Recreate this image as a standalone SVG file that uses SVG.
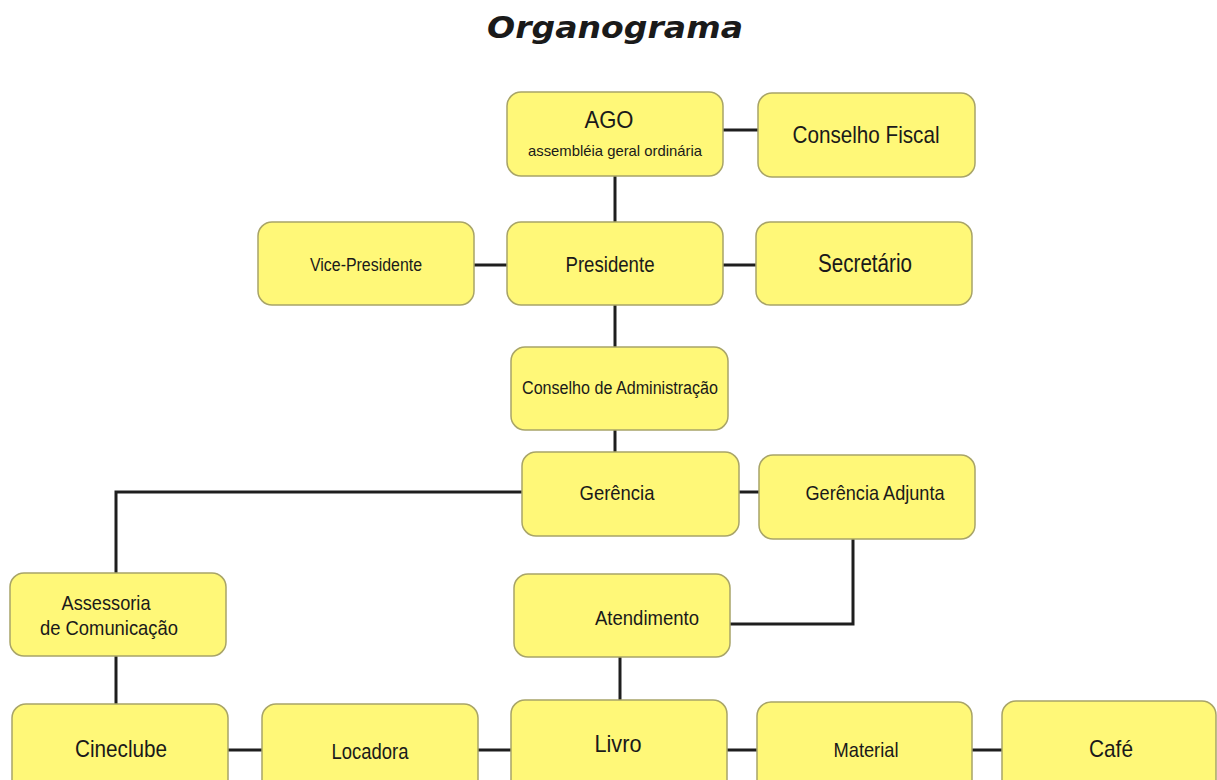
<svg xmlns="http://www.w3.org/2000/svg" width="1217" height="780" viewBox="0 0 1217 780">
<style>
.box{fill:#fff878;stroke:#a8a468;stroke-width:1.5}
.t{font-family:"Liberation Sans",Arial,sans-serif;fill:#1a1a1a;text-anchor:middle}
.c{fill:none;stroke:#1e1e1e;stroke-width:3}
</style>
<rect width="1217" height="780" fill="#ffffff"/>
<text x="615" y="38" font-family="DejaVu Sans, sans-serif" font-weight="bold" font-style="italic" font-size="31" text-anchor="middle" fill="#1a1a1a" textLength="256" lengthAdjust="spacingAndGlyphs">Organograma</text>
<g id="connectors">
<path class="c" d="M723 130H758"/>
<path class="c" d="M615 176V222"/>
<path class="c" d="M474 265H507M723 265H756"/>
<path class="c" d="M615 305V347"/>
<path class="c" d="M615 430V452"/>
<path class="c" d="M739 492H759"/>
<path class="c" d="M522 492H116V573"/>
<path class="c" d="M853 539V624H730"/>
<path class="c" d="M620 657V700"/>
<path class="c" d="M116 656V704"/>
<path class="c" d="M228 750H262M478 750H511M727 750H757M972 750H1002"/>
</g>
<g id="ago"><rect class="box" x="507" y="92" width="216" height="84" rx="14"/><text class="t" x="609" y="128" font-size="24" textLength="49" lengthAdjust="spacingAndGlyphs">AGO</text><text class="t" x="615" y="156" font-size="15" textLength="174" lengthAdjust="spacingAndGlyphs">assembléia geral ordinária</text></g>
<g id="conselho-fiscal"><rect class="box" x="758" y="93" width="217" height="84" rx="14"/><text class="t" x="866" y="143" font-size="24" textLength="147" lengthAdjust="spacingAndGlyphs">Conselho Fiscal</text></g>
<g id="vice-presidente"><rect class="box" x="258" y="222" width="216" height="83" rx="14"/><text class="t" x="366" y="271" font-size="18" textLength="112" lengthAdjust="spacingAndGlyphs">Vice-Presidente</text></g>
<g id="presidente"><rect class="box" x="507" y="222" width="216" height="83" rx="14"/><text class="t" x="610" y="272" font-size="22" textLength="89" lengthAdjust="spacingAndGlyphs">Presidente</text></g>
<g id="secretario"><rect class="box" x="756" y="222" width="216" height="83" rx="14"/><text class="t" x="865" y="272" font-size="25" textLength="94" lengthAdjust="spacingAndGlyphs">Secretário</text></g>
<g id="conselho-adm"><rect class="box" x="511" y="347" width="217" height="83" rx="14"/><text class="t" x="620" y="394" font-size="18" textLength="196" lengthAdjust="spacingAndGlyphs">Conselho de Administração</text></g>
<g id="gerencia"><rect class="box" x="522" y="452" width="217" height="84" rx="14"/><text class="t" x="617" y="500" font-size="21" textLength="75" lengthAdjust="spacingAndGlyphs">Gerência</text></g>
<g id="gerencia-adjunta"><rect class="box" x="759" y="455" width="216" height="84" rx="14"/><text class="t" x="875" y="500" font-size="21" textLength="139" lengthAdjust="spacingAndGlyphs">Gerência Adjunta</text></g>
<g id="assessoria"><rect class="box" x="10" y="573" width="216" height="83" rx="14"/><text class="t" x="106" y="610" font-size="21" textLength="89" lengthAdjust="spacingAndGlyphs">Assessoria</text><text class="t" x="109" y="635" font-size="21" textLength="138" lengthAdjust="spacingAndGlyphs">de Comunicação</text></g>
<g id="atendimento"><rect class="box" x="514" y="574" width="216" height="83" rx="14"/><text class="t" x="647" y="625" font-size="21" textLength="104" lengthAdjust="spacingAndGlyphs">Atendimento</text></g>
<g id="cineclube"><rect class="box" x="12" y="704" width="216" height="90" rx="14"/><text class="t" x="121" y="757" font-size="24" textLength="92" lengthAdjust="spacingAndGlyphs">Cineclube</text></g>
<g id="locadora"><rect class="box" x="262" y="704" width="216" height="90" rx="14"/><text class="t" x="370" y="759" font-size="22" textLength="77" lengthAdjust="spacingAndGlyphs">Locadora</text></g>
<g id="livro"><rect class="box" x="511" y="700" width="216" height="94" rx="14"/><text class="t" x="618" y="752" font-size="24" textLength="47" lengthAdjust="spacingAndGlyphs">Livro</text></g>
<g id="material"><rect class="box" x="757" y="702" width="215" height="92" rx="14"/><text class="t" x="866" y="757" font-size="21" textLength="65" lengthAdjust="spacingAndGlyphs">Material</text></g>
<g id="cafe"><rect class="box" x="1002" y="701" width="214" height="93" rx="14"/><text class="t" x="1111" y="757" font-size="24" textLength="44" lengthAdjust="spacingAndGlyphs">Café</text></g>
</svg>
